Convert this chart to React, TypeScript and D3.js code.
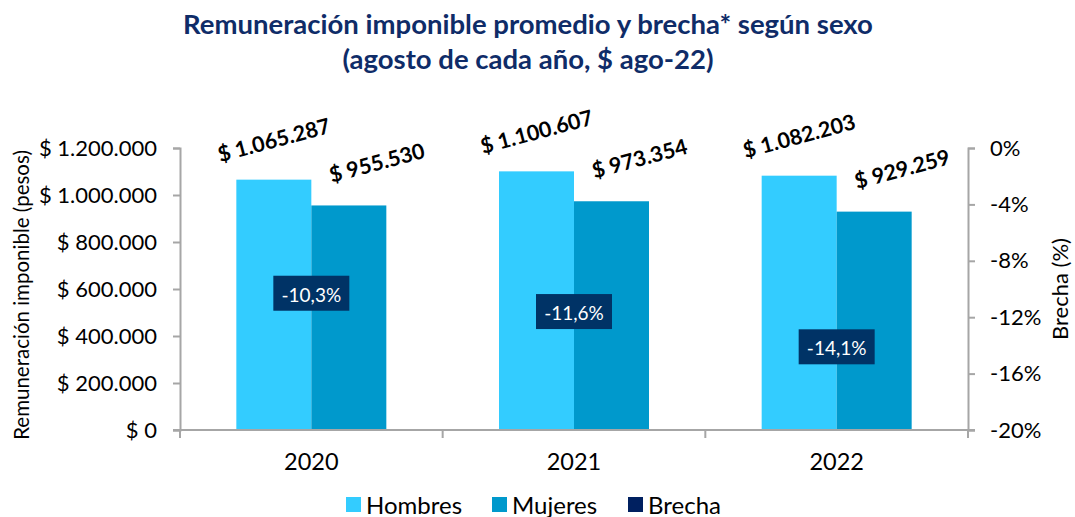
import { useEffect, useRef } from 'react'
import * as d3 from 'd3'

const years = ['2020', '2021', '2022']
const hombres = [1065287, 1100607, 1082203]
const mujeres = [955530, 973354, 929259]
const brecha = [-10.3, -11.6, -14.1]
const leftTicks = [0, 200000, 400000, 600000, 800000, 1000000, 1200000]
const rightTicks = [0, -4, -8, -12, -16, -20]

const W = 1075
const H = 517
const M = { top: 148, right: 107, bottom: 87, left: 180 }
const FONT = 'Lato, "Open Sans", sans-serif'
const C_H = '#33CCFF'
const C_M = '#0099CC'
const C_B = '#003366'
const AXIS = '#A6A6A6'

const fmtNum = (v: number) =>
  '$ ' + String(v).replace(/\B(?=(\d{3})+(?!\d))/g, '.')
const fmtPct = (v: number) => String(v).replace('.', ',') + '%'

export default function App() {
  const svgRef = useRef<SVGSVGElement>(null)

  useEffect(() => {
    if (!svgRef.current) return
    const svg = d3.select(svgRef.current)
    svg.selectAll('*').remove()

    const iw = W - M.left - M.right
    const ih = H - M.top - M.bottom
    const g = svg.append('g').attr('transform', `translate(${M.left},${M.top})`)

    const x = d3.scaleBand().domain(years).range([0, iw]).paddingInner(0).paddingOuter(0)
    const y = d3.scaleLinear().domain([0, 1200000]).range([ih, 0])
    const yR = d3.scaleLinear().domain([-20, 0]).range([ih, 0])
    const barW = 75
    const groupOff = (x.bandwidth() - barW * 2) / 2

    // title
    const title = svg.append('text').attr('x', 528).attr('text-anchor', 'middle')
      .attr('fill', '#0F2C68').attr('font-family', FONT).attr('font-weight', 700).attr('font-size', 27.5)
    title.append('tspan').attr('x', 528).attr('y', 34).text('Remuneración imponible promedio y brecha* según sexo')
    title.append('tspan').attr('x', 528).attr('y', 69).text('(agosto de cada año, $ ago-22)')

    // bars
    const series = [
      { name: 'Hombres', vals: hombres, col: C_H, off: 0, ldx: 0, ldy: -40 },
      { name: 'Mujeres', vals: mujeres, col: C_M, off: barW, ldx: 28, ldy: -43 },
    ]
    series.forEach(s => {
      g.selectAll(null).data(s.vals).join('rect')
        .attr('x', (_, i) => (x(years[i]) as number) + groupOff + s.off)
        .attr('y', d => y(d))
        .attr('width', barW)
        .attr('height', d => ih - y(d))
        .attr('fill', s.col)
      g.selectAll(null).data(s.vals).join('text')
        .attr('transform', (d, i) => {
          const cx = (x(years[i]) as number) + groupOff + s.off + barW / 2 + s.ldx
          const cy = y(d) + s.ldy
          return `translate(${cx},${cy}) rotate(-15)`
        })
        .attr('text-anchor', 'middle').attr('dominant-baseline', 'central')
        .attr('font-family', FONT).attr('font-weight', 700).attr('font-size', 21.5)
        .attr('fill', '#000')
        .text(d => fmtNum(d))
    })

    // axes
    const axL = g.append('g').call(d3.axisLeft(y).tickValues(leftTicks).tickSize(7).tickPadding(16)
      .tickFormat(d => fmtNum(d as number)))
    const axR = g.append('g').attr('transform', `translate(${iw},0)`)
      .call(d3.axisRight(yR).tickValues(rightTicks).tickSize(7).tickPadding(15).tickFormat(d => `${d}%`))
    const axB = g.append('g').attr('transform', `translate(0,${ih})`)
      .call(d3.axisBottom(x).tickSize(0).tickPadding(23))
    ;[axL, axR, axB].forEach(ax => {
      ax.select('.domain').attr('stroke', AXIS).attr('stroke-width', 2)
      ax.selectAll('.tick line').attr('stroke', AXIS).attr('stroke-width', 2)
      ax.selectAll('text').attr('fill', '#000').attr('font-family', FONT).attr('font-size', 22)
    })
    axB.selectAll('text').attr('font-size', 23.5)
    axB.select('.domain').attr('d', `M-7,0H${iw + 7}`)
    // category separator ticks
    g.selectAll(null).data([0, 1, 2, 3]).join('line')
      .attr('x1', i => i * x.bandwidth()).attr('x2', i => i * x.bandwidth())
      .attr('y1', ih).attr('y2', ih + 8)
      .attr('stroke', AXIS).attr('stroke-width', 2)

    // axis titles
    svg.append('text').attr('transform', `translate(29,${M.top + ih / 2 + 6}) rotate(-90)`)
      .attr('text-anchor', 'middle').attr('font-family', FONT).attr('font-size', 20.5).attr('fill', '#000')
      .text('Remuneración imponible (pesos)')
    svg.append('text').attr('transform', `translate(1068,${M.top + ih / 2}) rotate(-90)`)
      .attr('text-anchor', 'middle').attr('font-family', FONT).attr('font-size', 22).attr('fill', '#000')
      .text('Brecha (%)')

    // brecha labels
    const bg = g.selectAll(null).data(brecha).join('g')
      .attr('transform', (d, i) => `translate(${(x(years[i]) as number) + x.bandwidth() / 2},${yR(d)})`)
    bg.append('rect').attr('x', -38).attr('y', -17.5).attr('width', 76).attr('height', 35).attr('fill', C_B)
    bg.append('text').attr('text-anchor', 'middle').attr('dominant-baseline', 'central').attr('y', 1)
      .attr('font-family', FONT).attr('font-size', 19).attr('fill', '#fff')
      .text(d => fmtPct(d))

    // legend
    const legend = [
      { name: 'Hombres', col: C_H, x: 346 },
      { name: 'Mujeres', col: C_M, x: 492 },
      { name: 'Brecha', col: '#002060', x: 628 },
    ]
    const lg = svg.selectAll(null).data(legend).join('g').attr('transform', d => `translate(${d.x},497)`)
    lg.append('rect').attr('width', 15).attr('height', 15).attr('fill', d => d.col)
    lg.append('text').attr('x', 20).attr('y', 7).attr('dominant-baseline', 'central')
      .attr('font-family', FONT).attr('font-size', 24).attr('fill', '#000')
      .text(d => d.name)
  }, [])

  return (
    <svg ref={svgRef} width={W} height={H}
      style={{ position: 'absolute', left: 0, top: 0, background: '#fff', display: 'block' }} />
  )
}
